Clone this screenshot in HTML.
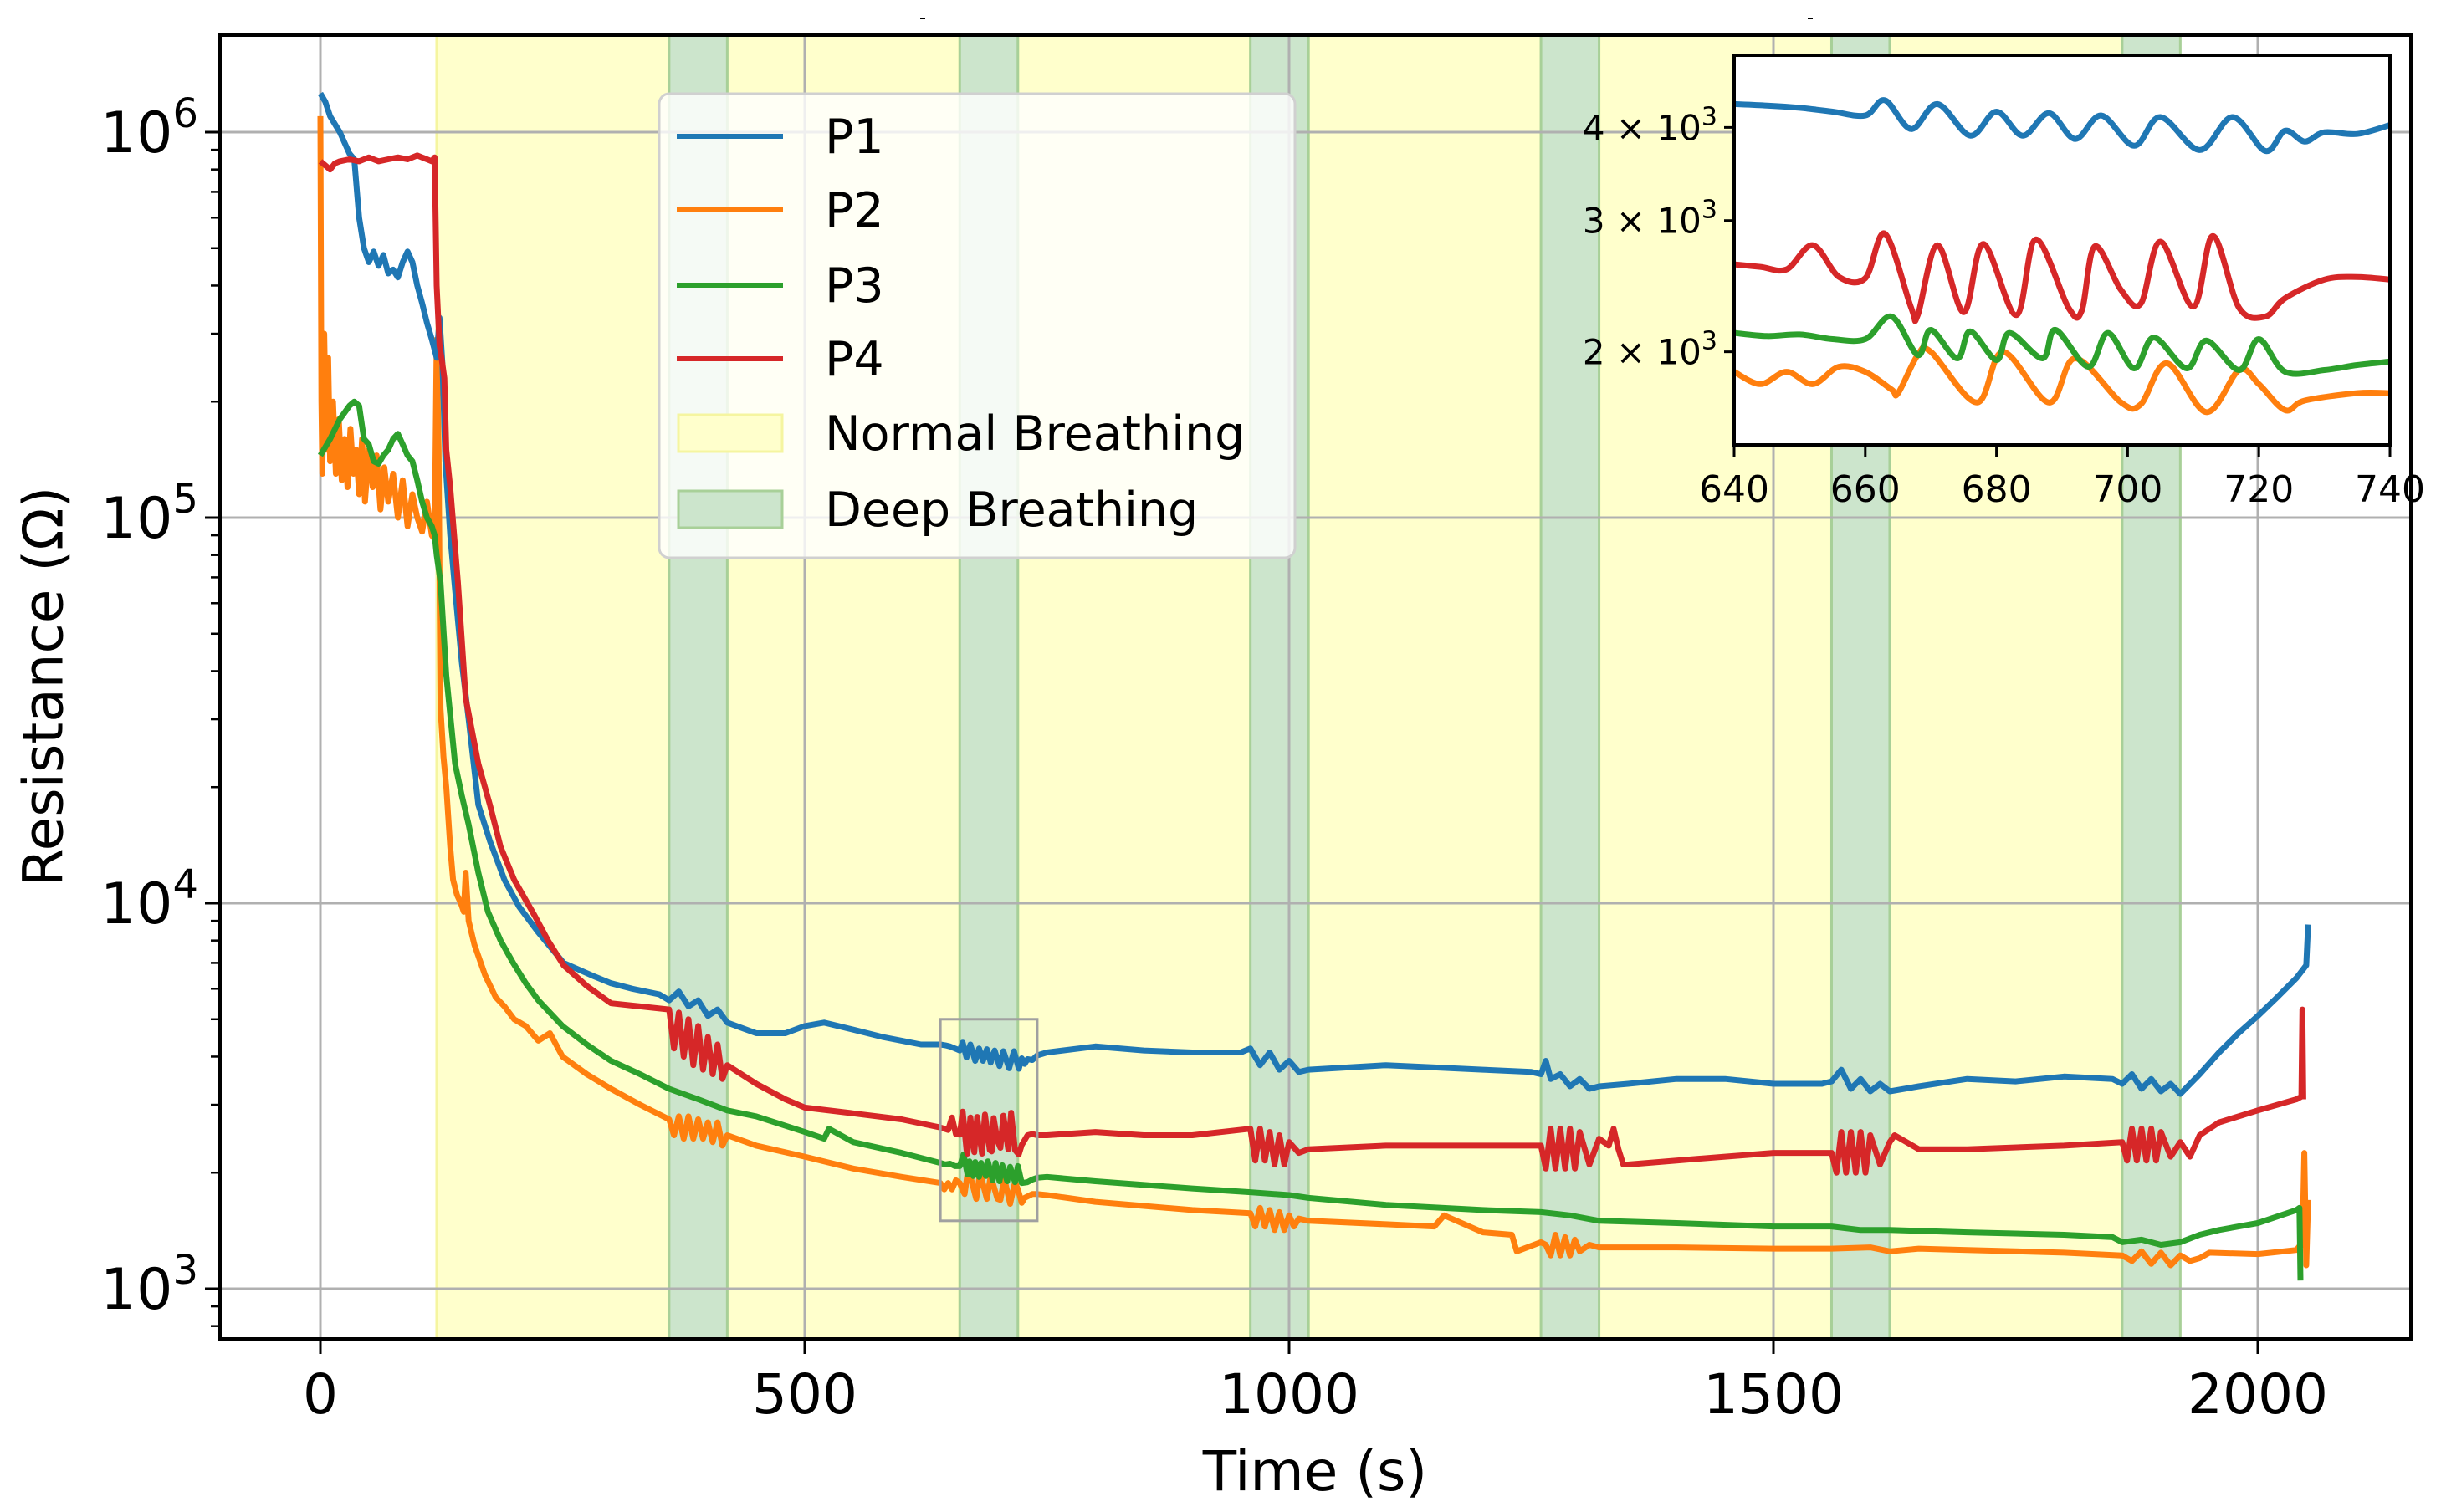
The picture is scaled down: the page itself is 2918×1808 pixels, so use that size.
<!DOCTYPE html>
<html><head><meta charset="utf-8"><style>
html,body{margin:0;padding:0;background:#fff;}
svg{display:block;font-family:"DejaVu Sans","Liberation Sans",sans-serif;}
</style></head><body>
<svg id="chart" width="2918" height="1808" viewBox="0 0 2918 1808" xmlns="http://www.w3.org/2000/svg">
<rect x="0" y="0" width="2918" height="1808" fill="#fff"/>
<g id="spans"></g>
<g id="grid"></g>
<g id="series"></g>
<g id="axes"></g>
<g id="legend"></g>
<g id="inset"></g>
<line x1="1100" y1="22" x2="1106" y2="22" stroke="#000" stroke-width="2"/>
<line x1="2161" y1="22" x2="2167" y2="22" stroke="#000" stroke-width="2"/>
<text x="52" y="821" font-size="66" text-anchor="middle" dominant-baseline="central" transform="rotate(-90 52 821)">Resistance (Ω)</text>
<text x="1572" y="1782" font-size="66" text-anchor="middle">Time (s)</text>
</svg>
<script>
// ---- data ----
const xTicks = [0, 500, 1000, 1500, 2000];
const yDecades = [3, 4, 5, 6];
const normalSpans = [[120,360],[420,660],[720,960],[1020,1260],[1320,1560],[1620,1860]];
const deepSpans = [[360,420],[660,720],[960,1020],[1260,1320],[1560,1620],[1860,1920]];
const seriesNames = ["P1","P2","P3","P4"];
const seriesColors = ["#1f77b4","#ff7f0e","#2ca02c","#d62728"];

const p1T = [0,5,10,20,30,35,40,45,50,55,60,65,70,75,80,85,90,95,100,105,110,115,120,123,126,129,134,139,146,153,163,175,190,205,225,251,280,300,322,350,360,370,380,390,400,410,420,450,480,500,520,550,580,600,620,640,750,800,850,900,950,960,970,980,990,1000,1010,1020,1100,1150,1200,1250,1260,1265,1270,1280,1290,1300,1310,1320,1350,1400,1450,1500,1550,1560,1570,1580,1590,1600,1610,1620,1650,1700,1750,1800,1850,1860,1870,1880,1890,1900,1910,1920,1940,1960,1980,2000,2020,2040,2050,2052];
const p1V = [1.26e6,1.2e6,1.1e6,1.0e6,8.8e5,8.5e5,6e5,5.0e5,4.6e5,4.9e5,4.5e5,4.8e5,4.3e5,4.4e5,4.2e5,4.6e5,4.9e5,4.6e5,4.0e5,3.6e5,3.2e5,2.9e5,2.6e5,3.3e5,2.5e5,1.4e5,9e4,6.5e4,4.2e4,3.0e4,1.8e4,1.45e4,1.15e4,9.8e3,8.4e3,7.0e3,6.5e3,6.2e3,6.0e3,5.8e3,5.6e3,5.9e3,5.4e3,5.6e3,5.1e3,5.3e3,4.9e3,4.6e3,4.6e3,4.8e3,4.9e3,4.7e3,4.5e3,4.4e3,4.3e3,4.3e3,4.1e3,4.25e3,4.15e3,4.1e3,4.1e3,4.2e3,3.8e3,4.1e3,3.7e3,3.9e3,3.65e3,3.7e3,3.8e3,3.75e3,3.7e3,3.65e3,3.6e3,3.9e3,3.5e3,3.6e3,3.35e3,3.5e3,3.3e3,3.35e3,3.4e3,3.5e3,3.5e3,3.4e3,3.4e3,3.45e3,3.7e3,3.3e3,3.5e3,3.25e3,3.4e3,3.25e3,3.35e3,3.5e3,3.45e3,3.55e3,3.5e3,3.4e3,3.6e3,3.3e3,3.5e3,3.25e3,3.4e3,3.2e3,3.6e3,4.1e3,4.6e3,5.1e3,5.7e3,6.4e3,6.9e3,8.8e3];

const p2T = [0,1,2,4,6,8,10,13,16,19,22,25,28,31,34,37,40,43,46,50,54,58,62,66,70,75,80,85,90,95,100,105,110,115,118,120,122,124,127,130,134,137,141,145,148,150,153,159,170,181,190,200,212,225,237,250,275,300,330,360,365,370,375,380,385,390,395,400,405,410,415,420,450,500,550,600,640,750,800,900,960,965,970,975,980,985,990,995,1000,1005,1010,1020,1100,1150,1160,1200,1230,1235,1260,1265,1270,1275,1280,1285,1290,1295,1300,1310,1320,1400,1500,1560,1600,1620,1650,1700,1800,1860,1870,1880,1890,1900,1910,1920,1930,1940,1950,2000,2040,2044,2046,2048,2050,2052];
const p2V = [1.1e6,2e5,1.3e5,3e5,1.5e5,2.6e5,1.4e5,2.0e5,1.3e5,1.8e5,1.25e5,1.6e5,1.2e5,1.7e5,1.3e5,1.5e5,1.15e5,1.6e5,1.1e5,1.5e5,1.2e5,1.45e5,1.05e5,1.35e5,1.1e5,1.3e5,1.0e5,1.25e5,9.5e4,1.15e5,1.0e5,9.2e4,1.1e5,9e4,8.8e4,2.9e5,1.5e5,3.2e4,2.4e4,2.0e4,1.4e4,1.15e4,1.05e4,1.0e4,9.5e3,1.2e4,9e3,7.8e3,6.5e3,5.7e3,5.4e3,5.0e3,4.8e3,4.4e3,4.6e3,4.0e3,3.6e3,3.3e3,3.0e3,2.75e3,2.5e3,2.8e3,2.45e3,2.8e3,2.45e3,2.75e3,2.45e3,2.7e3,2.4e3,2.7e3,2.35e3,2.5e3,2.35e3,2.2e3,2.05e3,1.95e3,1.88e3,1.75e3,1.68e3,1.6e3,1.57e3,1.45e3,1.62e3,1.45e3,1.6e3,1.42e3,1.58e3,1.42e3,1.55e3,1.45e3,1.52e3,1.5e3,1.47e3,1.45e3,1.55e3,1.4e3,1.38e3,1.25e3,1.32e3,1.3e3,1.22e3,1.38e3,1.22e3,1.36e3,1.22e3,1.34e3,1.25e3,1.3e3,1.28e3,1.28e3,1.27e3,1.27e3,1.28e3,1.25e3,1.27e3,1.26e3,1.24e3,1.22e3,1.18e3,1.25e3,1.16e3,1.24e3,1.15e3,1.22e3,1.18e3,1.2e3,1.24e3,1.23e3,1.26e3,1.3e3,1.3e3,2.25e3,1.15e3,1.7e3,1.1e3,1.3e3];

const p3T = [0,10,20,30,35,40,45,50,55,60,65,70,75,80,85,90,95,100,105,110,115,118,120,124,130,139,146,153,163,173,186,199,212,225,250,275,300,330,360,390,420,450,500,520,525,550,600,640,750,800,900,960,1000,1020,1100,1200,1260,1290,1320,1400,1500,1560,1590,1620,1700,1800,1850,1860,1880,1900,1920,1940,1960,2000,2040,2043,2044];
const p3V = [1.45e5,1.6e5,1.8e5,1.95e5,2.0e5,1.95e5,1.6e5,1.55e5,1.4e5,1.38e5,1.45e5,1.5e5,1.6e5,1.65e5,1.55e5,1.45e5,1.4e5,1.25e5,1.1e5,1.0e5,9.5e4,9e4,8e4,6.8e4,3.9e4,2.3e4,1.9e4,1.6e4,1.2e4,9.5e3,8.0e3,7.0e3,6.2e3,5.6e3,4.8e3,4.3e3,3.9e3,3.6e3,3.3e3,3.1e3,2.9e3,2.8e3,2.55e3,2.45e3,2.6e3,2.4e3,2.25e3,2.15e3,1.95e3,1.9e3,1.82e3,1.78e3,1.75e3,1.72e3,1.65e3,1.6e3,1.58e3,1.55e3,1.5e3,1.48e3,1.45e3,1.45e3,1.42e3,1.42e3,1.4e3,1.38e3,1.36e3,1.32e3,1.34e3,1.3e3,1.32e3,1.38e3,1.42e3,1.48e3,1.6e3,1.62e3,1.05e3];

const p4T = [0,5,10,15,20,30,40,50,60,70,80,90,100,105,110,115,118,120,123,126,128,130,134,142,150,163,175,186,200,221,235,251,275,300,330,360,365,370,375,380,385,390,395,400,405,410,415,420,450,480,500,550,600,640,750,800,850,900,960,965,970,975,980,985,990,995,1000,1010,1020,1100,1200,1260,1265,1270,1275,1280,1285,1290,1295,1300,1310,1320,1330,1335,1340,1345,1350,1400,1450,1500,1560,1565,1570,1575,1580,1585,1590,1595,1600,1610,1620,1625,1650,1700,1800,1860,1865,1870,1875,1880,1885,1890,1895,1900,1910,1920,1930,1940,1960,2000,2040,2045,2046,2047];
const p4V = [8.4e5,8.2e5,8.0e5,8.3e5,8.4e5,8.5e5,8.4e5,8.6e5,8.4e5,8.5e5,8.6e5,8.5e5,8.7e5,8.6e5,8.5e5,8.4e5,8.6e5,4e5,2.8e5,2.5e5,2.3e5,1.5e5,1.2e5,6.8e4,3.4e4,2.3e4,1.8e4,1.4e4,1.15e4,9.3e3,8.0e3,6.9e3,6.1e3,5.5e3,5.4e3,5.3e3,4.2e3,5.2e3,4.0e3,5.0e3,3.8e3,4.8e3,3.7e3,4.5e3,3.6e3,4.3e3,3.5e3,3.8e3,3.4e3,3.1e3,2.95e3,2.85e3,2.75e3,2.65e3,2.5e3,2.55e3,2.5e3,2.5e3,2.6e3,2.15e3,2.6e3,2.15e3,2.55e3,2.1e3,2.5e3,2.1e3,2.4e3,2.25e3,2.3e3,2.35e3,2.35e3,2.35e3,2.05e3,2.6e3,2.05e3,2.6e3,2.05e3,2.6e3,2.05e3,2.55e3,2.1e3,2.45e3,2.35e3,2.6e3,2.3e3,2.1e3,2.1e3,2.15e3,2.2e3,2.25e3,2.25e3,2.0e3,2.55e3,2.0e3,2.55e3,2.0e3,2.55e3,2.0e3,2.5e3,2.1e3,2.4e3,2.5e3,2.3e3,2.3e3,2.35e3,2.4e3,2.15e3,2.6e3,2.15e3,2.6e3,2.15e3,2.6e3,2.15e3,2.55e3,2.2e3,2.4e3,2.2e3,2.5e3,2.7e3,2.9e3,3.1e3,3.15e3,5.3e3,3.1e3];

// inset detail (640-740 s)
const inT1 = [640,645,650,655,660,663,667,671,676,680,684,688,692,696,701,705,711,716,721,724,727,730,735,740];
const inV1 = [4.3e3,4.28e3,4.25e3,4.2e3,4.15e3,4.35e3,3.98e3,4.3e3,3.9e3,4.2e3,3.9e3,4.18e3,3.86e3,4.15e3,3.78e3,4.13e3,3.73e3,4.13e3,3.72e3,3.96e3,3.83e3,3.94e3,3.92e3,4.03e3];
const inT2 = [640,644,648,652,656,660,664,665,668,670,677,681,688,692,699,702,706,712,717,720,724,727,735,740];
const inV2 = [1.88e3,1.81e3,1.88e3,1.81e3,1.91e3,1.88e3,1.78e3,1.76e3,1.98e3,2.0e3,1.71e3,2.0e3,1.71e3,1.96e3,1.71e3,1.7e3,1.93e3,1.66e3,1.89e3,1.81e3,1.67e3,1.72e3,1.76e3,1.76e3];
const inT3 = [640,645,650,655,660,664,668,670,674,676,680,682,687,689,694,697,701,704,709,712,717,720,724,730,735,740];
const inV3 = [2.12e3,2.1e3,2.11e3,2.08e3,2.08e3,2.23e3,1.98e3,2.14e3,1.96e3,2.13e3,1.95e3,2.12e3,1.96e3,2.14e3,1.91e3,2.12e3,1.9e3,2.09e3,1.9e3,2.07e3,1.89e3,2.08e3,1.88e3,1.89e3,1.92e3,1.94e3];
const inT4 = [640,644,648,652,656,660,663,667,668,671,675,678,683,686,691,693,695,699,702,705,710,713,717,721,724,730,735,740];
const inV4 = [2.62e3,2.6e3,2.58e3,2.78e3,2.52e3,2.51e3,2.88e3,2.29e3,2.24e3,2.78e3,2.26e3,2.79e3,2.24e3,2.83e3,2.29e3,2.27e3,2.77e3,2.42e3,2.32e3,2.81e3,2.3e3,2.86e3,2.29e3,2.23e3,2.36e3,2.5e3,2.52e3,2.5e3];
const inXTicks = [640,660,680,700,720,740];
const inYTicks = [2,3,4];

// ---- layout ----
const NS="http://www.w3.org/2000/svg";
const L=263,R=2882,T=42,B=1601;
const xs = t => 383 + 1.158*t;
const ys = v => 1541 - 461*(Math.log10(v)-3);
const IL=2073,IR=2857,IT=66,IB=532;
const ixs = t => IL + (t-640)*(IR-IL)/100;
const iys = v => IT + (Math.log10(5000)-Math.log10(v))*(IB-IT)/(Math.log10(5000)-Math.log10(1500));
function mk(tag, attrs, parent){const e=document.createElementNS(NS,tag);for(const k in attrs)e.setAttribute(k,attrs[k]);parent.appendChild(e);return e;}

const spans=document.getElementById('spans');
normalSpans.forEach(s=>{
  const r=mk('rect',{x:xs(s[0]),y:T,width:xs(s[1])-xs(s[0]),height:B-T,fill:'#ffffcc',stroke:'#f5f5a0','stroke-width':3},spans);
  
  
});
deepSpans.forEach(s=>{
  const r=mk('rect',{x:xs(s[0]),y:T,width:xs(s[1])-xs(s[0]),height:B-T,fill:'#cce5cc',stroke:'#a8d098','stroke-width':3},spans);
  
  
});

const grid=document.getElementById('grid');
xTicks.forEach(t=>{
  const l=mk('line',{x1:xs(t),x2:xs(t),y1:T,y2:B,stroke:'#b0b0b0','stroke-width':3},grid);
  
  
});
yDecades.forEach(d=>{
  const l=mk('line',{x1:L,x2:R,y1:ys(Math.pow(10,d)),y2:ys(Math.pow(10,d)),stroke:'#b0b0b0','stroke-width':3},grid);
  
  
});

function path(T_,V_,fx,fy){return T_.map((t,i)=>(i?'L':'M')+fx(t).toFixed(1)+' '+fy(V_[i]).toFixed(1)).join(' ');}
function smoothPath(T_,V_,fx,fy){
  const P=T_.map((t,i)=>[fx(t),fy(V_[i])]);
  let d='M'+P[0][0].toFixed(1)+' '+P[0][1].toFixed(1);
  for(let i=0;i<P.length-1;i++){
    const p0=P[i-1]||P[i],p1=P[i],p2=P[i+1],p3=P[i+2]||p2;
    const c1=[p1[0]+(p2[0]-p0[0])/6,p1[1]+(p2[1]-p0[1])/6];
    const c2=[p2[0]-(p3[0]-p1[0])/6,p2[1]-(p3[1]-p1[1])/6];
    d+=' C'+c1[0].toFixed(1)+' '+c1[1].toFixed(1)+' '+c2[0].toFixed(1)+' '+c2[1].toFixed(1)+' '+p2[0].toFixed(1)+' '+p2[1].toFixed(1);
  }
  return d;
}
function merge(T_,V_,iT,iV){const a=[],b=[];T_.forEach((t,i)=>{if(t<640){a.push(t);b.push(V_[i]);}});iT.forEach((t,i)=>{a.push(t);b.push(iV[i]);});T_.forEach((t,i)=>{if(t>740){a.push(t);b.push(V_[i]);}});return [a,b];}
const mainSets=[merge(p1T,p1V,inT1,inV1),merge(p2T,p2V,inT2,inV2),merge(p3T,p3V,inT3,inV3),merge(p4T,p4V,inT4,inV4)];
const order=[1,2,0,3];
const ser=document.getElementById('series');
const clip=mk('clipPath',{id:'mainclip'},mk('defs',{},ser));
mk('rect',{x:L,y:T,width:R-L,height:B-T},clip);
order.forEach(i=>{
  const p=mk('path',{d:path(mainSets[i][0],mainSets[i][1],xs,ys),fill:'none',stroke:seriesColors[i],'stroke-width':7,'stroke-linejoin':'round','clip-path':'url(#mainclip)'},ser);
  
  
});
const zb=mk('rect',{x:xs(640),y:ys(5000),width:xs(740)-xs(640),height:ys(1500)-ys(5000),fill:'none',stroke:'#a0a0a0','stroke-width':3},ser);



const ax=document.getElementById('axes');
const fr=mk('rect',{x:L,y:T,width:R-L,height:B-T,fill:'none',stroke:'#000','stroke-width':4},ax);


xTicks.forEach(t=>{
  mk('line',{x1:xs(t),x2:xs(t),y1:B,y2:B+18,stroke:'#000','stroke-width':3},ax);
  const tx=mk('text',{x:xs(t),y:1690,'font-size':66,'text-anchor':'middle'},ax);
  tx.textContent=t;
  
  
});
yDecades.forEach(d=>{
  const y=ys(Math.pow(10,d));
  mk('line',{x1:L-18,x2:L,y1:y,y2:y,stroke:'#000','stroke-width':3},ax);
  const tx=mk('text',{x:L-26,y:y+24,'font-size':68,'text-anchor':'end'},ax);
  const a=mk('tspan',{},tx);a.textContent='10';
  const b=mk('tspan',{dy:-30,'font-size':48},tx);b.textContent=d;
  
  
  for(let m=2;m<=9;m++){
    const v=m*Math.pow(10,d);
    if(ys(v)>T && ys(v)<B) mk('line',{x1:L-11,x2:L,y1:ys(v),y2:ys(v),stroke:'#000','stroke-width':2.5},ax);
  }
  for(let m=2;m<=9;m++){
    const v=m*Math.pow(10,d-1);
    if(d===3 && ys(v)>T && ys(v)<B) mk('line',{x1:L-11,x2:L,y1:ys(v),y2:ys(v),stroke:'#000','stroke-width':2.5},ax);
  }
});

// legend
const lg=document.getElementById('legend');
mk('rect',{x:788,y:112,width:760,height:555,rx:12,fill:'rgba(255,255,255,0.8)',stroke:'#d0d0d0','stroke-width':3},lg);
const ly=[163,251,341,429,518,609];
seriesNames.forEach((n,i)=>{
  mk('line',{x1:809,x2:936,y1:ly[i],y2:ly[i],stroke:seriesColors[i],'stroke-width':6},lg);
  const t=mk('text',{x:986,y:ly[i]+20,'font-size':57},lg);t.textContent=n;
  
  
});
mk('rect',{x:811,y:ly[4]-22,width:124,height:44,fill:'#ffffcc',stroke:'#f5f5a0','stroke-width':3},lg);
const t5=mk('text',{x:986,y:ly[4]+20,'font-size':57},lg);t5.textContent='Normal Breathing';


mk('rect',{x:811,y:ly[5]-22,width:124,height:44,fill:'#cce5cc',stroke:'#a8d098','stroke-width':3},lg);
const t6=mk('text',{x:986,y:ly[5]+20,'font-size':57},lg);t6.textContent='Deep Breathing';



// inset
const ins=document.getElementById('inset');
mk('rect',{x:IL,y:IT,width:IR-IL,height:IB-IT,fill:'#fff'},ins);
const ic=mk('clipPath',{id:'insclip'},mk('defs',{},ins));
mk('rect',{x:IL,y:IT,width:IR-IL,height:IB-IT},ic);
const inSets=[[inT1,inV1],[inT2,inV2],[inT3,inV3],[inT4,inV4]];
order.forEach(i=>{
  const p=mk('path',{d:smoothPath(inSets[i][0],inSets[i][1],ixs,iys),fill:'none',stroke:seriesColors[i],'stroke-width':7,'stroke-linejoin':'round','clip-path':'url(#insclip)'},ins);
  
  
});
mk('rect',{x:IL,y:IT,width:IR-IL,height:IB-IT,fill:'none',stroke:'#000','stroke-width':4},ins);
inXTicks.forEach(t=>{
  mk('line',{x1:ixs(t),x2:ixs(t),y1:IB,y2:IB+14,stroke:'#000','stroke-width':3},ins);
  const tx=mk('text',{x:ixs(t),y:600,'font-size':44,'text-anchor':'middle'},ins);tx.textContent=t;
  
  
});
inYTicks.forEach(m=>{
  const y=iys(m*1000);
  mk('line',{x1:IL-12,x2:IL,y1:y,y2:y,stroke:'#000','stroke-width':3},ins);
  const tx=mk('text',{x:IL-20,y:y+15,'font-size':42,'text-anchor':'end'},ins);
  const a=mk('tspan',{},tx);a.textContent=m+' × 10';
  const b=mk('tspan',{dy:-18,'font-size':30},tx);b.textContent='3';
  
  
});
</script>
</body></html>
